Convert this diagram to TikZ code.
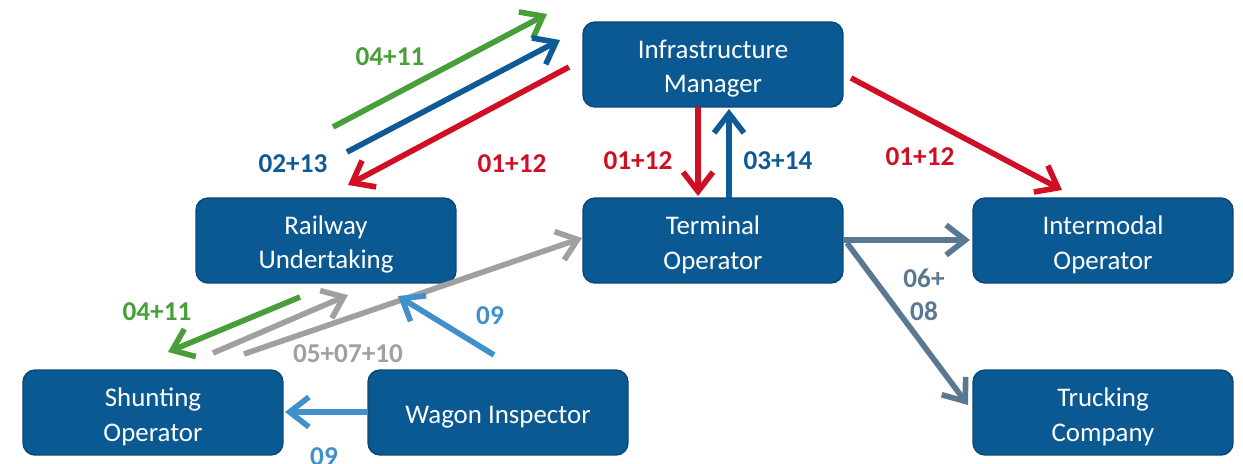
\documentclass[tikz,border=0pt]{standalone}
\usepackage{fontspec}
\setmainfont{Carlito}
\usetikzlibrary{arrows.meta}
\definecolor{boxfill}{RGB}{11,89,147}
\definecolor{boxline}{RGB}{8,70,120}
\definecolor{cgreen}{RGB}{72,158,56}
\definecolor{cblue}{RGB}{14,90,150}
\definecolor{cred}{RGB}{208,14,36}
\definecolor{cgray}{RGB}{160,160,160}
\definecolor{clblue}{RGB}{64,144,204}
\definecolor{cslate}{RGB}{90,120,145}
\newcommand\topstrut{\rule{0pt}{15.5pt}}
\tikzset{
  box/.style={draw=boxline, line width=0.8pt, fill=boxfill, rounded corners=0.24cm,
    minimum width=5.2cm, minimum height=1.7cm, text=white, align=center,
    font=\fontsize{15.3}{19.5}\selectfont, inner sep=0pt},
  conn/.style={line width=3.2pt, -{Straight Barb[length=11pt,width=17pt]}},
  lbl/.style={font=\bfseries\fontsize{15.5}{18.5}\selectfont, align=center, inner sep=0pt}
}
\begin{document}
\begin{tikzpicture}[x=0.02cm,y=-0.02cm]
\useasboundingbox (0,0) rectangle (1243,463);
\node[box] (im) at (713,64.5) {\topstrut Infrastructure\\Manager};
\node[box] (ru) at (326,240.5) {\topstrut Railway\\Undertaking};
\node[box] (to) at (713,240.5) {\topstrut Terminal\\Operator};
\node[box] (io) at (1103,240.5) {\topstrut Intermodal\\Operator};
\node[box] (so) at (153,412.5) {\topstrut Shunting\\Operator};
\node[box] (wi) at (498,412.5) {\topstrut Wagon Inspector};
\node[box] (tc) at (1103,412.5) {\topstrut Trucking\\Company};

% endpoints
\coordinate (g1s) at (333,127); \coordinate (g1e) at (547,14);
\coordinate (b1s) at (347,152); \coordinate (b1e) at (560,40);
\coordinate (r1s) at (569,67);  \coordinate (r1e) at (348,185);
\coordinate (r2s) at (698,107); \coordinate (r2e) at (698,196);
\coordinate (b2s) at (729,198); \coordinate (b2e) at (729,109);
\coordinate (r3s) at (851,78);  \coordinate (r3e) at (1062,190);
\coordinate (s1s) at (843,240); \coordinate (s1e) at (970,240);
\coordinate (s2s) at (847,243); \coordinate (s2e) at (968,405);
\coordinate (g2s) at (300,297); \coordinate (g2e) at (168,352);
\coordinate (y1s) at (213,353); \coordinate (y1e) at (348,295);
\coordinate (y2s) at (244,354); \coordinate (y2e) at (582,238);
\coordinate (l1s) at (494,355); \coordinate (l1e) at (398,296);
\coordinate (l2s) at (368,412); \coordinate (l2e) at (285,412);

\draw[conn, cgreen] (g1s) -- (g1e);
\draw[conn, cblue] (b1s) -- (b1e);
\draw[conn, cred] (r1s) -- (r1e);
\draw[conn, cred] (r2s) -- (r2e);
\draw[conn, cblue] (b2s) -- (b2e);
\draw[conn, cred] (r3s) -- (r3e);
\draw[conn, cslate] (s1s) -- (s1e);
\draw[conn, cslate] (s2s) -- (s2e);
\draw[conn, cgreen] (g2s) -- (g2e);
\draw[conn, cgray] (y1s) -- (y1e);
\draw[conn, cgray] (y2s) -- (y2e);
\draw[conn, clblue] (l1s) -- (l1e);
\draw[conn, clblue] (l2s) -- (l2e);

\node[lbl, text=cgreen] (t1) at (390,57) {04+11};
\node[lbl, text=cblue] (t2) at (293,164) {02+13};
\node[lbl, text=cred] (t3) at (512,164) {01+12};
\node[lbl, text=cred] (t4) at (638,161) {01+12};
\node[lbl, text=cblue] (t5) at (778,161) {03+14};
\node[lbl, text=cred] (t6) at (920,157) {01+12};
\node[lbl, text=cslate] (t7) at (924,295) {06+\\08};
\node[lbl, text=cgreen] (t8) at (157,312) {04+11};
\node[lbl, text=clblue] (t9) at (490,316) {09};
\node[lbl, text=cgray] (t10) at (348,354) {05+07+10};
\node[lbl, text=clblue] (t11) at (324,457) {09};
\end{tikzpicture}
\end{document}
